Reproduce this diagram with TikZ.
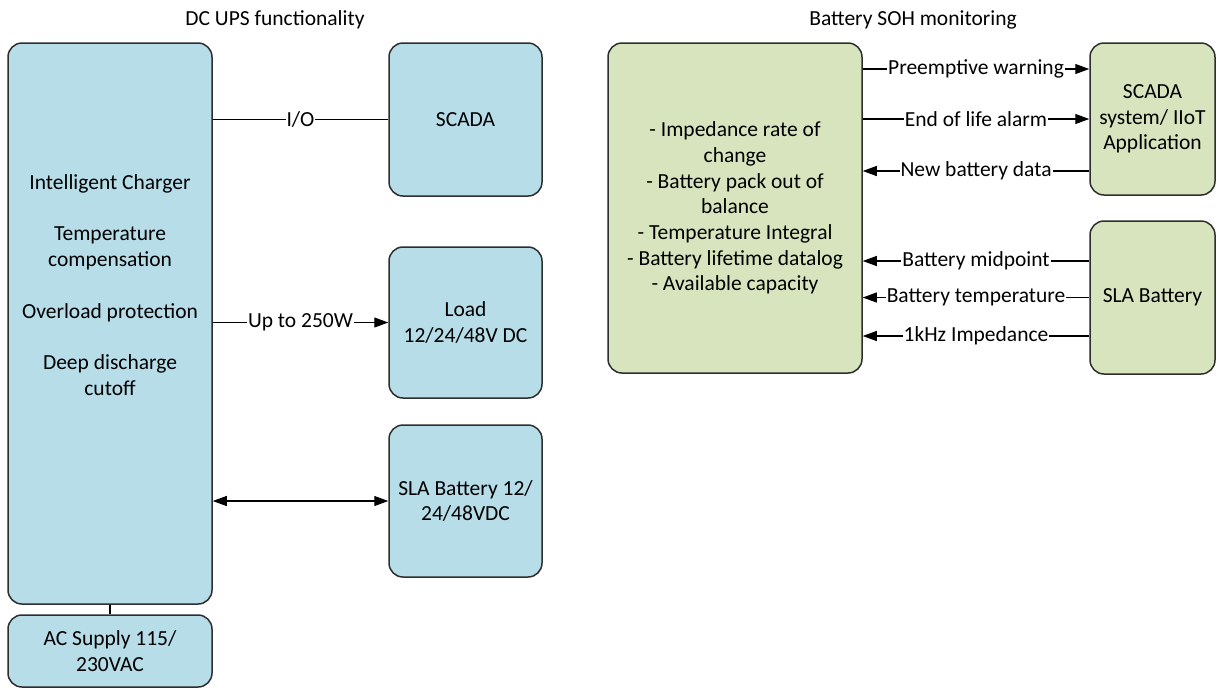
\documentclass[tikz,border=0pt]{standalone}
\usepackage{fontspec}
\setmainfont{Carlito}
\usetikzlibrary{arrows.meta}
\definecolor{upsblue}{HTML}{B7DDE8}
\definecolor{sohgreen}{HTML}{D7E4BD}
\definecolor{edge}{HTML}{2E2E2E}
\begin{document}
\begin{tikzpicture}[x=1pt,y=-1pt,
    every node/.style={font=\fontsize{21.5}{25.7}\selectfont,align=center},
    bluebox/.style={draw=edge,line width=1.5pt,fill=upsblue,rounded corners=14pt,inner sep=0pt},
    greenbox/.style={draw=edge,line width=1.5pt,fill=sohgreen,rounded corners=14pt,inner sep=0pt},
    lbl/.style={fill=white,inner sep=1pt},
    wire/.style={line width=1.1pt},
    tip/.style={-{Triangle[length=14pt,width=10pt]}}]
    \useasboundingbox (0,0) rectangle (1217,689);
    % DC UPS side
    \node (ttl1) at (275,20) {DC UPS functionality};
    \node[bluebox,minimum width=204pt,minimum height=561pt] (chg) at (110,323.5) {};
    \node (chgtxt) at (110,285) {Intelligent Charger\\[25.7pt]Temperature\\compensation\\[25.7pt]Overload protection\\[25.7pt]Deep discharge\\cutoff};
    \node[bluebox,minimum width=153pt,minimum height=153pt] (scada) at (465.5,119.5) {SCADA};
    \node[bluebox,minimum width=153pt,minimum height=151pt] (load)  at (465.5,322.5) {Load\\12/24/48V DC};
    \node[bluebox,minimum width=153pt,minimum height=152pt] (bat)   at (465.5,501) {SLA Battery 12/\\24/48VDC};
    \node[bluebox,minimum width=204pt,minimum height=72pt]  (ac)    at (110,651) {AC Supply 115/\\230VAC};
    \draw[wire] (chg.east |- scada.west) -- node[lbl] {I/O} (scada.west);
    \draw[wire,tip] (chg.east |- load.west) -- node[lbl] {Up to 250W} (load.west);
    \draw[wire,{Triangle[length=14pt,width=10pt]}-{Triangle[length=14pt,width=10pt]}] (chg.east |- bat.west) -- (bat.west);
    \draw[wire] (chg.south) -- (ac.north);
    % battery SOH side
    \node (ttl2) at (913,20) {Battery SOH monitoring};
    \node[greenbox,minimum width=254pt,minimum height=330pt] (soh) at (735,208) {- Impedance rate of\\change\\- Battery pack out of\\balance\\- Temperature Integral\\- Battery lifetime datalog\\- Available capacity};
    \node[greenbox,minimum width=125pt,minimum height=152pt] (app) at (1152.5,119) {SCADA\\system/ IIoT\\Application};
    \node[greenbox,minimum width=125pt,minimum height=153pt] (sla) at (1152.5,297.5) {SLA Battery};
    \coordinate (w1) at ([yshift=50pt]app.west);
    \coordinate (w2) at (app.west);
    \coordinate (w3) at ([yshift=-52pt]app.west);
    \coordinate (b1) at ([yshift=36.5pt]sla.west);
    \coordinate (b2) at (sla.west);
    \coordinate (b3) at ([yshift=-38.5pt]sla.west);
    \draw[wire,tip] (soh.east |- w1) -- node[lbl] {Preemptive warning} (w1);
    \draw[wire,tip] (soh.east |- w2) -- node[lbl] {End of life alarm} (w2);
    \draw[wire,tip] (w3) -- node[lbl] {New battery data} (soh.east |- w3);
    \draw[wire,tip] (b1) -- node[lbl] {Battery midpoint} (soh.east |- b1);
    \draw[wire,tip] (b2) -- node[lbl] {Battery temperature} (soh.east |- b2);
    \draw[wire,tip] (b3) -- node[lbl] {1kHz Impedance} (soh.east |- b3);
\end{tikzpicture}
\end{document}
